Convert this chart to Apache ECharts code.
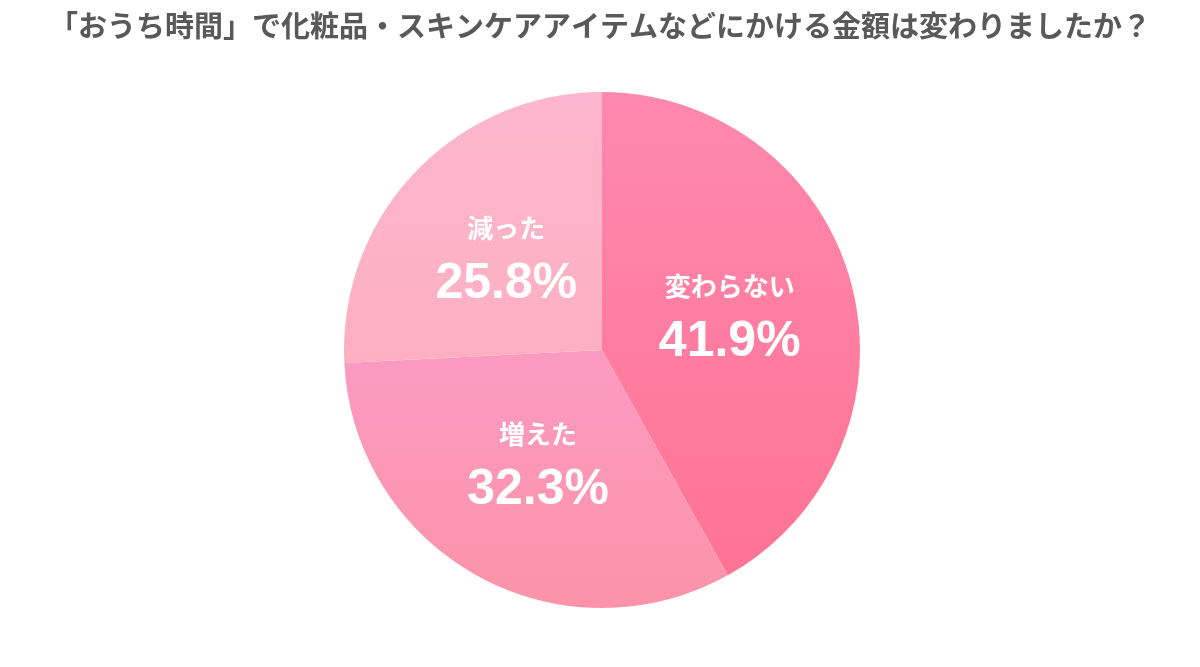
<!DOCTYPE html>
<html><head><meta charset="utf-8">
<script src="https://cdn.jsdelivr.net/npm/echarts@6/dist/echarts.min.js"></script>
<style>html,body{margin:0;padding:0;background:#fff}#c{width:1200px;height:667px}</style>
</head><body><div id="c"></div>
<script>
const categories = ['変わらない', '増えた', '減った'];
const values = [41.9, 32.3, 25.8];
const colorPairs = [['#ff88b0', '#ff7393'], ['#fb9ac2', '#fd93a8'], ['#fdb6cf', '#fdafc0']];
const chart = echarts.init(document.getElementById('c'));
chart.setOption({
  backgroundColor: '#fff',
  title: {
    text: '「おうち時間」で化粧品・スキンケアアイテムなどにかける金額は変わりましたか？',
    left: 'center', top: 6,
    textStyle: { fontFamily: 'Noto Sans CJK JP', fontSize: 29, fontWeight: 'bold', color: '#595959' }
  },
  series: [{
    type: 'pie',
    center: [602, 350],
    radius: [0, 258],
    startAngle: 90,
    clockwise: true,
    silent: true,
    itemStyle: { borderColor: '#fff', borderWidth: 0 },
    label: {
      position: 'inside',
      formatter: p => '{n|' + p.name + '}\n{v|' + p.value.toFixed(1) + '%}',
      rich: {
        n: { fontFamily: 'Noto Sans CJK JP', fontSize: 26, fontWeight: 'bold', color: '#fff', lineHeight: 50 },
        v: { fontFamily: 'Liberation Sans', fontSize: 50, fontWeight: 'bold', color: '#fff', lineHeight: 62 }
      }
    },
    labelLine: { show: false },
    data: categories.map((c, i) => ({
      name: c, value: values[i],
      itemStyle: { color: new echarts.graphic.LinearGradient(0, 0, 0, 1, [
        { offset: 0, color: colorPairs[i][0] }, { offset: 1, color: colorPairs[i][1] }]) }
    }))
  }]
});
</script></body></html>
